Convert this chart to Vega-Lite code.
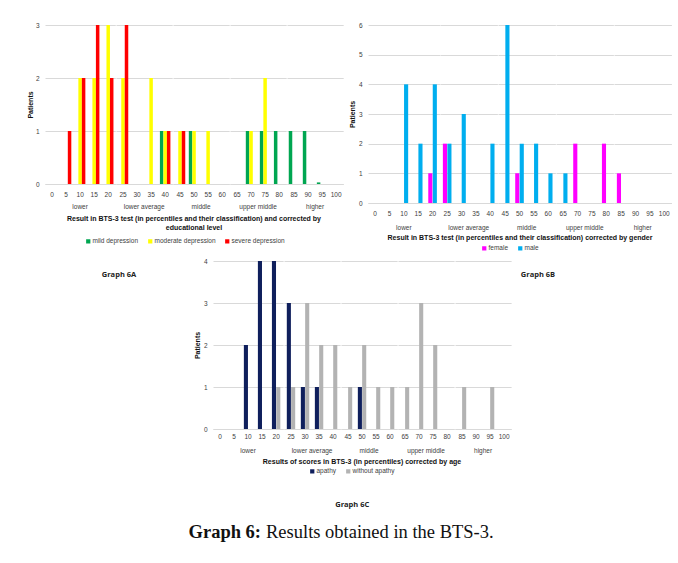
{
  "$schema": "https://vega.github.io/schema/vega-lite/v6.json",
  "padding": {"left": 26, "top": 22, "right": 5, "bottom": 5},
  "background": "white",
  "config": {
    "view": {"stroke": null},
    "font": "Liberation Sans",
    "axis": {"labelFont": "Liberation Sans", "labelFontSize": 6.5, "labelColor": "#404040", "titleFont": "Liberation Sans", "titleFontSize": 7, "titleFontWeight": "bold", "titleColor": "#111111", "ticks": false, "domain": false, "gridColor": "#d9d9d9"},
    "axisX": {"labelAngle": 0, "labelPadding": 7, "domain": true, "domainColor": "#d9d9d9", "grid": false, "title": null},
    "axisY": {"labelPadding": 6, "titlePadding": 2, "grid": true},
    "header": {"labelFont": "Liberation Sans", "labelFontSize": 6.5, "labelColor": "#404040", "titleFont": "Liberation Sans", "titleFontSize": 7, "titleFontWeight": "bold", "titleColor": "#111111", "labelOrient": "bottom", "titleOrient": "bottom", "labelPadding": 6, "titlePadding": -6, "titleLineHeight": 9},
    "legend": {"orient": "bottom", "direction": "horizontal", "symbolType": "square", "symbolSize": 18, "symbolStrokeWidth": 0, "labelFont": "Liberation Sans", "labelFontSize": 6.5, "labelColor": "#404040", "offset": 5, "columnPadding": 8, "labelOffset": 1, "padding": 0, "layout": {"bottom": {"anchor": "middle"}}}
  },
  "datasets": {
    "A": [
      {"pct": 0, "group": "lower", "series": "severe depression", "n": 0},
      {"pct": 5, "group": "lower", "series": "severe depression", "n": 1},
      {"pct": 10, "group": "lower", "series": "moderate depression", "n": 2},
      {"pct": 10, "group": "lower", "series": "severe depression", "n": 2},
      {"pct": 15, "group": "lower", "series": "moderate depression", "n": 2},
      {"pct": 15, "group": "lower", "series": "severe depression", "n": 3},
      {"pct": 20, "group": "lower", "series": "moderate depression", "n": 3},
      {"pct": 20, "group": "lower", "series": "severe depression", "n": 2},
      {"pct": 25, "group": "lower average", "series": "moderate depression", "n": 2},
      {"pct": 25, "group": "lower average", "series": "severe depression", "n": 3},
      {"pct": 30, "group": "lower average", "series": "severe depression", "n": 0},
      {"pct": 35, "group": "lower average", "series": "moderate depression", "n": 2},
      {"pct": 40, "group": "lower average", "series": "mild depression", "n": 1},
      {"pct": 40, "group": "lower average", "series": "moderate depression", "n": 1},
      {"pct": 40, "group": "lower average", "series": "severe depression", "n": 1},
      {"pct": 45, "group": "middle", "series": "moderate depression", "n": 1},
      {"pct": 45, "group": "middle", "series": "severe depression", "n": 1},
      {"pct": 50, "group": "middle", "series": "mild depression", "n": 1},
      {"pct": 50, "group": "middle", "series": "moderate depression", "n": 1},
      {"pct": 55, "group": "middle", "series": "moderate depression", "n": 1},
      {"pct": 60, "group": "middle", "series": "severe depression", "n": 0},
      {"pct": 65, "group": "upper middle", "series": "severe depression", "n": 0},
      {"pct": 70, "group": "upper middle", "series": "mild depression", "n": 1},
      {"pct": 70, "group": "upper middle", "series": "moderate depression", "n": 1},
      {"pct": 75, "group": "upper middle", "series": "mild depression", "n": 1},
      {"pct": 75, "group": "upper middle", "series": "moderate depression", "n": 2},
      {"pct": 80, "group": "upper middle", "series": "mild depression", "n": 1},
      {"pct": 85, "group": "higher", "series": "mild depression", "n": 1},
      {"pct": 90, "group": "higher", "series": "mild depression", "n": 1},
      {"pct": 95, "group": "higher", "series": "mild depression", "n": 0.03},
      {"pct": 100, "group": "higher", "series": "severe depression", "n": 0}
    ],
    "B": [
      {"pct": 0, "group": "lower", "series": "male", "n": 0},
      {"pct": 5, "group": "lower", "series": "male", "n": 0},
      {"pct": 10, "group": "lower", "series": "male", "n": 4},
      {"pct": 15, "group": "lower", "series": "male", "n": 2},
      {"pct": 20, "group": "lower", "series": "female", "n": 1},
      {"pct": 20, "group": "lower", "series": "male", "n": 4},
      {"pct": 25, "group": "lower average", "series": "female", "n": 2},
      {"pct": 25, "group": "lower average", "series": "male", "n": 2},
      {"pct": 30, "group": "lower average", "series": "male", "n": 3},
      {"pct": 35, "group": "lower average", "series": "male", "n": 0},
      {"pct": 40, "group": "lower average", "series": "male", "n": 2},
      {"pct": 45, "group": "middle", "series": "male", "n": 6},
      {"pct": 50, "group": "middle", "series": "female", "n": 1},
      {"pct": 50, "group": "middle", "series": "male", "n": 2},
      {"pct": 55, "group": "middle", "series": "male", "n": 2},
      {"pct": 60, "group": "middle", "series": "male", "n": 1},
      {"pct": 65, "group": "upper middle", "series": "male", "n": 1},
      {"pct": 70, "group": "upper middle", "series": "female", "n": 2},
      {"pct": 75, "group": "upper middle", "series": "male", "n": 0},
      {"pct": 80, "group": "upper middle", "series": "female", "n": 2},
      {"pct": 85, "group": "higher", "series": "female", "n": 1},
      {"pct": 90, "group": "higher", "series": "male", "n": 0},
      {"pct": 95, "group": "higher", "series": "male", "n": 0},
      {"pct": 100, "group": "higher", "series": "male", "n": 0}
    ],
    "C": [
      {"pct": 0, "group": "lower", "series": "apathy", "n": 0},
      {"pct": 5, "group": "lower", "series": "apathy", "n": 0},
      {"pct": 10, "group": "lower", "series": "apathy", "n": 2},
      {"pct": 15, "group": "lower", "series": "apathy", "n": 4},
      {"pct": 20, "group": "lower", "series": "apathy", "n": 4},
      {"pct": 20, "group": "lower", "series": "without apathy", "n": 1},
      {"pct": 25, "group": "lower average", "series": "apathy", "n": 3},
      {"pct": 25, "group": "lower average", "series": "without apathy", "n": 1},
      {"pct": 30, "group": "lower average", "series": "apathy", "n": 1},
      {"pct": 30, "group": "lower average", "series": "without apathy", "n": 3},
      {"pct": 35, "group": "lower average", "series": "apathy", "n": 1},
      {"pct": 35, "group": "lower average", "series": "without apathy", "n": 2},
      {"pct": 40, "group": "lower average", "series": "without apathy", "n": 2},
      {"pct": 45, "group": "middle", "series": "without apathy", "n": 1},
      {"pct": 50, "group": "middle", "series": "apathy", "n": 1},
      {"pct": 50, "group": "middle", "series": "without apathy", "n": 2},
      {"pct": 55, "group": "middle", "series": "without apathy", "n": 1},
      {"pct": 60, "group": "middle", "series": "without apathy", "n": 1},
      {"pct": 65, "group": "upper middle", "series": "without apathy", "n": 1},
      {"pct": 70, "group": "upper middle", "series": "without apathy", "n": 3},
      {"pct": 75, "group": "upper middle", "series": "without apathy", "n": 2},
      {"pct": 80, "group": "upper middle", "series": "without apathy", "n": 0},
      {"pct": 85, "group": "higher", "series": "without apathy", "n": 1},
      {"pct": 90, "group": "higher", "series": "without apathy", "n": 0},
      {"pct": 95, "group": "higher", "series": "without apathy", "n": 1},
      {"pct": 100, "group": "higher", "series": "without apathy", "n": 0}
    ]
  },
  "resolve": {"scale": {"x": "independent", "y": "independent", "xOffset": "independent", "color": "independent"}, "legend": {"color": "independent"}},
  "spacing": 6,
  "vconcat": [
    {
      "spacing": 4,
      "resolve": {"scale": {"x": "independent", "y": "independent", "xOffset": "independent", "color": "independent"}, "legend": {"color": "independent"}},
      "hconcat": [
        {
          "data": {"name": "A"},
          "spacing": 0,
          "align": "each",
          "resolve": {"scale": {"x": "independent"}},
          "facet": {"column": {"field": "group", "type": "nominal", "sort": ["lower", "lower average", "middle", "upper middle", "higher"], "title": ["Result in BTS-3 test (in percentiles and their classification) and corrected by", "educational level"], "header": {"labelPadding": 6, "titlePadding": -6}}},
          "spec": {
            "width": {"step": 14.05, "for": "position"},
            "height": 159,
            "mark": {"type": "bar"},
            "encoding": {
              "x": {"field": "pct", "type": "ordinal", "scale": {"paddingInner": 0.25, "paddingOuter": 0.125}, "axis": {"title": null, "labelPadding": 7.5}},
              "xOffset": {"field": "series", "type": "nominal", "scale": {"domain": ["mild depression", "moderate depression", "severe depression"], "range": [0, 10.5]}},
              "y": {"field": "n", "type": "quantitative", "scale": {"domain": [0, 3], "nice": false}, "axis": {"values": [0, 1, 2, 3], "title": "Patients"}},
              "color": {"field": "series", "type": "nominal", "scale": {"domain": ["mild depression", "moderate depression", "severe depression"], "range": ["#00a651", "#ffff00", "#ff0000"]}, "legend": {"title": null, "offset": 7}}
            }
          }
        },
        {
          "data": {"name": "B"},
          "spacing": 0,
          "align": "each",
          "resolve": {"scale": {"x": "independent"}},
          "facet": {"column": {"field": "group", "type": "nominal", "sort": ["lower", "lower average", "middle", "upper middle", "higher"], "title": "Result in BTS-3 test (in percentiles and their classification) corrected by gender", "header": {"labelPadding": 8, "titlePadding": -8}}},
          "spec": {
            "width": {"step": 14.35, "for": "position"},
            "height": 178,
            "mark": {"type": "bar"},
            "encoding": {
              "x": {"field": "pct", "type": "ordinal", "scale": {"paddingInner": 0.4, "paddingOuter": 0.2}, "axis": {"title": null, "labelPadding": 7}},
              "xOffset": {"field": "series", "type": "nominal", "scale": {"domain": ["female", "male"], "range": [0, 8.6], "paddingInner": 0.08}},
              "y": {"field": "n", "type": "quantitative", "scale": {"domain": [0, 6], "nice": false}, "axis": {"values": [0, 1, 2, 3, 4, 5, 6], "title": "Patients", "titlePadding": 3}},
              "color": {"field": "series", "type": "nominal", "scale": {"domain": ["female", "male"], "range": ["#ff00ff", "#00aeef"]}, "legend": {"title": null, "offset": 4}}
            }
          }
        }
      ]
    },
    {
      "spacing": 0,
      "resolve": {"scale": {"x": "independent", "y": "independent", "xOffset": "independent", "color": "independent"}, "legend": {"color": "independent"}},
      "hconcat": [
        {
          "width": 148,
          "height": 28,
          "data": {"values": [{"t": "Graph 6A"}]},
          "mark": {"type": "text", "font": "Open Sans", "fontSize": 7.5, "fontWeight": "bold", "color": "#222222"},
          "encoding": {"text": {"field": "t", "type": "nominal"}}
        },
        {
          "data": {"name": "C"},
          "spacing": 0,
          "align": "each",
          "resolve": {"scale": {"x": "independent"}},
          "title": {"text": "Graph 6C", "orient": "bottom", "font": "Open Sans", "fontSize": 7.5, "fontWeight": "bold", "color": "#222222", "offset": 26, "anchor": "middle"},
          "facet": {"column": {"field": "group", "type": "nominal", "sort": ["lower", "lower average", "middle", "upper middle", "higher"], "title": "Results of scores in BTS-3 (in percentiles) corrected by age", "header": {"labelPadding": 8, "titlePadding": -7}}},
          "spec": {
            "width": {"step": 14.03, "for": "position"},
            "height": 168,
            "mark": {"type": "bar"},
            "encoding": {
              "x": {"field": "pct", "type": "ordinal", "scale": {"paddingInner": 0.4, "paddingOuter": 0.2}, "axis": {"title": null, "labelPadding": 4.5}},
              "xOffset": {"field": "series", "type": "nominal", "scale": {"domain": ["apathy", "without apathy"], "range": [0, 8.4], "paddingInner": 0.05}},
              "y": {"field": "n", "type": "quantitative", "scale": {"domain": [0, 4], "nice": false}, "axis": {"values": [0, 1, 2, 3, 4], "title": "Patients", "titlePadding": 3}},
              "color": {"field": "series", "type": "nominal", "scale": {"domain": ["apathy", "without apathy"], "range": ["#0f1f5c", "#b3b3b3"]}, "legend": {"title": null, "offset": 3}}
            }
          }
        },
        {
          "width": 52,
          "height": 28,
          "data": {"values": [{"t": "Graph 6B"}]},
          "mark": {"type": "text", "font": "Open Sans", "fontSize": 7.5, "fontWeight": "bold", "color": "#222222"},
          "encoding": {"text": {"field": "t", "type": "nominal"}}
        }
      ]
    },
    {
      "width": 432,
      "height": 34,
      "data": {"values": [{"bold": "Graph 6:", "rest": "Results obtained in the BTS-3."}]},
      "layer": [
        {"mark": {"type": "text", "font": "Liberation Serif", "fontSize": 18.5, "fontWeight": "bold", "align": "right", "color": "#111111"}, "encoding": {"text": {"field": "bold", "type": "nominal"}}},
        {"mark": {"type": "text", "font": "Liberation Serif", "fontSize": 18.5, "align": "left", "dx": 5, "color": "#111111"}, "encoding": {"text": {"field": "rest", "type": "nominal"}}}
      ]
    }
  ]
}
